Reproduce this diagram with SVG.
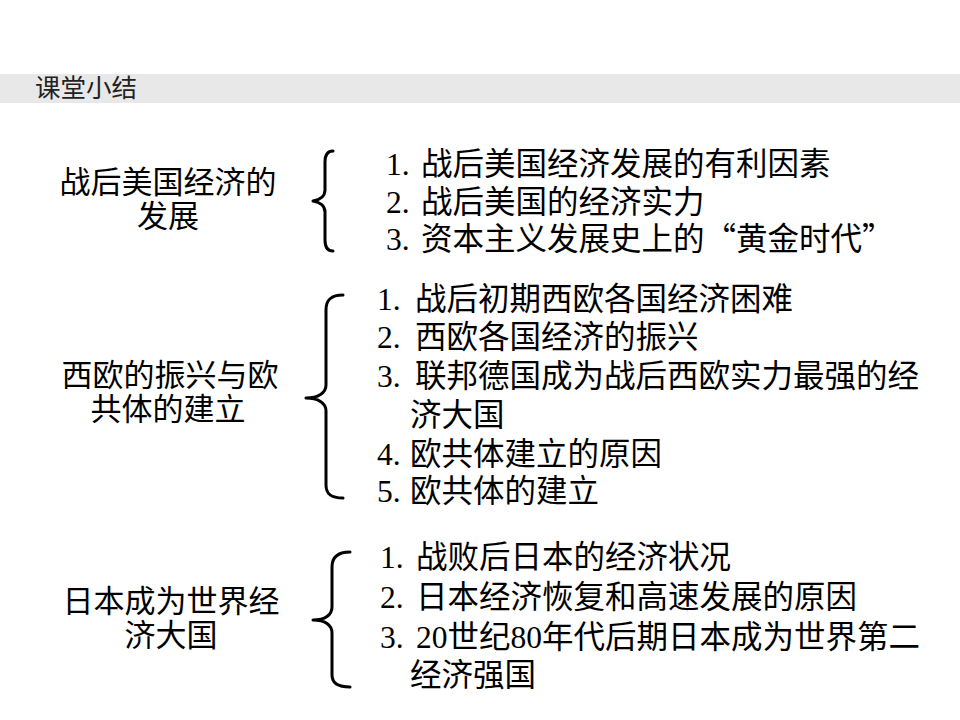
<svg xmlns="http://www.w3.org/2000/svg" width="960" height="720" viewBox="0 0 960 720">
<style>
.hdr{font-family:"Noto Sans CJK SC",sans-serif;font-size:25.5px;fill:#222;}
.lbl{font-family:"Noto Sans CJK SC",sans-serif;font-size:31px;fill:#000;text-anchor:middle;}
.item{font-family:"Liberation Serif","Noto Sans CJK SC",serif;font-size:31.5px;fill:#000;}
.cjk{font-family:"Noto Sans CJK SC",sans-serif;}
.brace{fill:none;stroke:#000;stroke-width:3;stroke-linecap:round;stroke-linejoin:round;}
</style>
<rect width="960" height="720" fill="#fff"/>
<g id="header">
<rect x="0" y="74" width="960" height="29" fill="#e8e8e8"/>
<text class="hdr" x="35" y="97">课堂小结</text>
</g>
<g id="usa">
<text class="lbl"><tspan x="168" y="193">战后美国经济的</tspan><tspan x="168" y="227">发展</tspan></text>
</g>
<g id="westeurope">
<text class="lbl"><tspan x="170" y="386">西欧的振兴与欧</tspan><tspan x="168" y="420">共体的建立</tspan></text>
</g>
<g id="japan">
<text class="lbl"><tspan x="171" y="612">日本成为世界经</tspan><tspan x="171" y="646">济大国</tspan></text>
</g>
<g id="connectors">
<path class="brace" d="M333,151 C327,151 325,155 325,162 L325,190 C325,196 320,200 313,201 C320,202 325,206 325,212 L325,240 C325,247 327,251 333,251"/>
<path class="brace" d="M343,295 C331,295 326,300 326,310 L326,385 C326,393 318,398 306,398 C318,398 326,403 326,411 L326,485 C326,494 331,498 343,498"/>
<path class="brace" d="M350,552 C338,552 332,557 332,567 L332,607 C332,615 325,620 313,620 C325,620 332,625 332,633 L332,675 C332,683 338,687 350,687"/>
</g>
<g id="usa-items">
<text class="item"><tspan x="386" y="175">1.</tspan><tspan class="cjk" x="421" y="175">战后美国经济发展的有利因素</tspan><tspan x="386" y="213">2.</tspan><tspan class="cjk" x="421" y="213">战后美国的经济实力</tspan><tspan x="386" y="250">3.</tspan><tspan class="cjk" x="421" y="250">资本主义发展史上的“黄金时代”</tspan></text>
</g>
<g id="westeurope-items">
<text class="item"><tspan x="377" y="310">1.</tspan><tspan class="cjk" x="415" y="310">战后初期西欧各国经济困难</tspan><tspan x="377" y="348">2.</tspan><tspan class="cjk" x="415" y="348">西欧各国经济的振兴</tspan><tspan x="377" y="387">3.</tspan><tspan class="cjk" x="415" y="387">联邦德国成为战后西欧实力最强的经</tspan><tspan class="cjk" x="410" y="426">济大国</tspan><tspan x="377" y="465">4.</tspan><tspan class="cjk" x="410" y="465">欧共体建立的原因</tspan><tspan x="377" y="502">5.</tspan><tspan class="cjk" x="410" y="502">欧共体的建立</tspan></text>
</g>
<g id="japan-items">
<text class="item"><tspan x="380" y="568">1.</tspan><tspan class="cjk" x="416" y="568">战败后日本的经济状况</tspan><tspan x="380" y="608">2.</tspan><tspan class="cjk" x="416" y="608">日本经济恢复和高速发展的原因</tspan><tspan x="380" y="648">3.</tspan><tspan x="416" y="648">20</tspan><tspan class="cjk">世纪</tspan><tspan>80</tspan><tspan class="cjk">年代后期日本成为世界第二</tspan><tspan class="cjk" x="410" y="686">经济强国</tspan></text>
</g>
</svg>
